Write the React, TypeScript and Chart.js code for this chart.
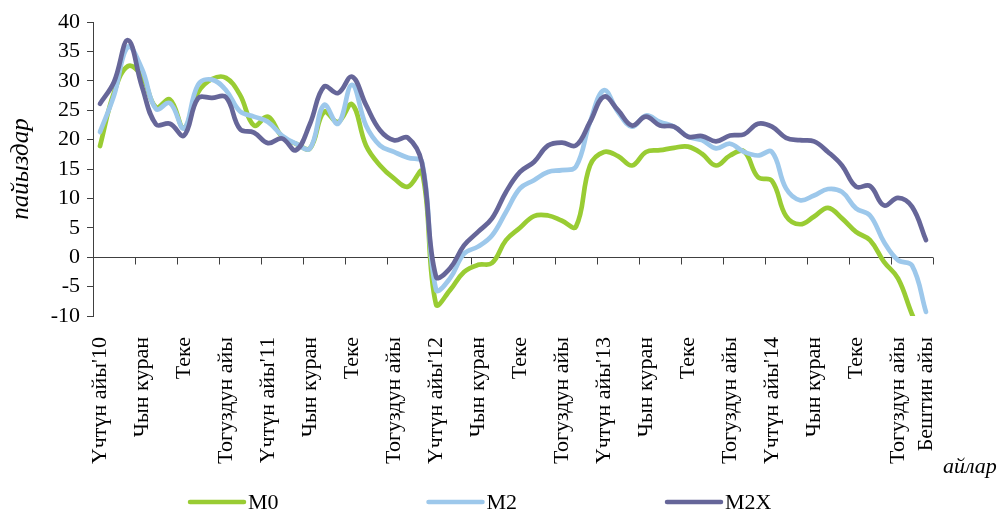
import React, { useEffect, useRef } from "react";
import { Chart, registerables } from "chart.js";

Chart.register(...registerables);

// Month names (Kyrgyz), year suffixes
const monthNames = [
  "Үчтүн айы", "Бирдин айы", "Жалган куран", "Чын куран", "Бугу", "Кулжа",
  "Теке", "Баш оона", "Аяк оона", "Тогуздун айы", "Жетинин айы", "Бештин айы",
];
const years = ["10", "11", "12", "13", "14"];
const categories = years.flatMap((y) => monthNames.map((m, k) => (k === 0 ? `${m}'${y}` : m)));
const labelStep = 3;

const seriesNames = ["M0", "M2", "M2X"];
const seriesColors = ["#99CC33", "#9DC8EB", "#666699"];

const m0 = [
  18.9, 28.0, 32.5, 30.8, 25.5, 26.8, 22.0, 28.0, 30.3, 30.5,
  27.6, 22.4, 23.9, 20.5, 19.3, 18.5, 24.7, 23.0, 26.0, 19.0,
  15.6, 13.4, 12.0, 14.5, -8.0, -5.6, -2.5, -1.3, -1.0, 2.9,
  5.0, 7.0, 7.1, 6.2, 5.2, 15.6, 17.9, 17.2, 15.6, 17.9,
  18.2, 18.6, 18.8, 17.6, 15.6, 17.3, 18.0, 13.6, 13.0, 7.0,
  5.6, 6.9, 8.4, 6.6, 4.3, 2.9, -0.8, -3.6, -9.7, -15.0,
];
const m2 = [
  21.3, 27.5, 35.8, 32.0, 25.2, 26.2, 21.9, 29.3, 30.2, 28.4,
  24.8, 23.9, 23.0, 20.7, 19.3, 18.5, 25.9, 22.7, 29.3, 22.4,
  19.0, 17.9, 16.9, 16.2, -5.5, -3.6, 0.6, 1.8, 3.7, 7.7,
  11.7, 13.1, 14.5, 14.8, 15.4, 23.0, 28.4, 24.7, 22.2, 24.1,
  23.0, 22.2, 20.5, 19.9, 18.5, 19.3, 17.9, 17.3, 17.9, 11.7,
  9.7, 10.5, 11.6, 11.1, 8.3, 7.1, 2.6, -0.5, -1.4, -9.3,
];
const m2x = [
  26.1, 29.8, 36.9, 29.0, 22.6, 22.7, 20.7, 27.0, 27.1, 27.2,
  21.8, 21.2, 19.4, 20.2, 18.2, 22.7, 29.0, 27.9, 30.7, 25.9,
  21.6, 19.9, 20.3, 16.0, -3.3, -1.9, 2.0, 4.3, 6.6, 11.1,
  14.5, 16.2, 19.0, 19.5, 19.0, 23.0, 27.3, 25.0, 22.4, 23.9,
  22.4, 22.2, 20.5, 20.6, 19.7, 20.7, 20.9, 22.7, 22.2, 20.3,
  19.9, 19.7, 17.9, 15.6, 12.0, 12.1, 8.8, 10.1, 8.6, 2.9,
];
const seriesData = [m0, m2, m2x];

const yMin = -10;
const yMax = 40;
const yStep = 5;

const yTitle = "пайыздар";
const xTitle = "айлар";

const FONT = "'Liberation Serif', 'Times New Roman', serif";

const zeroAxisPlugin = {
  id: "zeroAxis",
  beforeDatasetsDraw(chart: any) {
    const { ctx, chartArea, scales } = chart;
    const x = scales.x;
    const y = scales.y;
    const y0 = Math.round(y.getPixelForValue(0)) + 0.5;
    const half = (x.getPixelForValue(1) - x.getPixelForValue(0)) / 2;
    ctx.save();
    ctx.strokeStyle = "#404040";
    ctx.lineWidth = 1;
    ctx.beginPath();
    ctx.moveTo(chartArea.left, y0);
    ctx.lineTo(chartArea.right, y0);
    for (let k = 0; k <= categories.length; k += labelStep) {
      const px = Math.round(x.getPixelForValue(k) - half) + 0.5;
      ctx.moveTo(px, y0);
      ctx.lineTo(px, y0 + 7);
    }
    ctx.stroke();
    ctx.restore();
  },
};

const legendPlugin = {
  id: "customLegend",
  afterDraw(chart: any) {
    const { ctx, chartArea } = chart;
    ctx.save();
    const baseX = chartArea.left + 97;
    const spacing = 238.5;
    const ly = 502;
    ctx.font = `22px ${FONT}`;
    ctx.textBaseline = "middle";
    ctx.textAlign = "left";
    chart.data.datasets.forEach((ds: any, i: number) => {
      const sx = baseX + i * spacing;
      ctx.strokeStyle = ds.borderColor;
      ctx.lineWidth = 4.5;
      ctx.lineCap = "round";
      ctx.beginPath();
      ctx.moveTo(sx, ly);
      ctx.lineTo(sx + 54, ly);
      ctx.stroke();
      ctx.fillStyle = "#000";
      ctx.fillText(ds.label, sx + 58, ly + 1);
    });
    ctx.font = `italic 22px ${FONT}`;
    ctx.fillText(xTitle, chartArea.right + 10, chartArea.bottom + 151);
    ctx.restore();
  },
};

export default function App() {
  const ref = useRef<HTMLCanvasElement | null>(null);
  useEffect(() => {
    if (!ref.current) return;
    const chart = new Chart(ref.current, {
      type: "line",
      data: {
        labels: categories,
        datasets: seriesData.map((d, i) => ({
          label: seriesNames[i],
          data: d,
          borderColor: seriesColors[i],
          backgroundColor: seriesColors[i],
          borderWidth: 4.7,
          pointRadius: 0,
          tension: 0.4,
          borderCapStyle: "round",
          borderJoinStyle: "round",
          fill: false,
          order: 3 - i,
        })),
      },
      options: {
        responsive: false,
        animation: false,
        layout: { padding: { left: 0, right: 70, top: 22, bottom: 0 } },
        plugins: {
          legend: { display: false },
          tooltip: { enabled: false },
        },
        scales: {
          x: {
            type: "category",
            offset: true,
            grid: { display: false, drawTicks: false },
            border: { display: false },
            ticks: {
              autoSkip: false,
              minRotation: 90,
              maxRotation: 90,
              padding: 21,
              color: "#000",
              font: { family: FONT, size: 22 },
              callback: (_v: any, index: number) =>
                index % labelStep === 0 || index === categories.length - 1 ? categories[index] : "",
            },
            afterFit: (scale: any) => {
              scale.height = 197;
            },
          },
          y: {
            min: yMin,
            max: yMax,
            grid: {
              drawOnChartArea: false,
              drawTicks: true,
              tickLength: 6,
              tickColor: "#404040",
            },
            border: { display: true, color: "#404040", width: 1 },
            ticks: {
              stepSize: yStep,
              padding: 7,
              color: "#000",
              font: { family: FONT, size: 22 },
            },
            title: {
              display: true,
              text: yTitle,
              color: "#000",
              font: { family: FONT, size: 25, style: "italic" },
              padding: { top: 6, bottom: 0 },
            },
            afterFit: (scale: any) => {
              scale.width = 93;
            },
          },
        },
      },
      plugins: [zeroAxisPlugin, legendPlugin],
    });
    return () => chart.destroy();
  }, []);
  return (
    <div style={{ position: "absolute", left: 0, top: 0, width: 1003, height: 513, background: "#fff" }}>
      <canvas ref={ref} width={1003} height={513} style={{ display: "block" }} />
    </div>
  );
}
